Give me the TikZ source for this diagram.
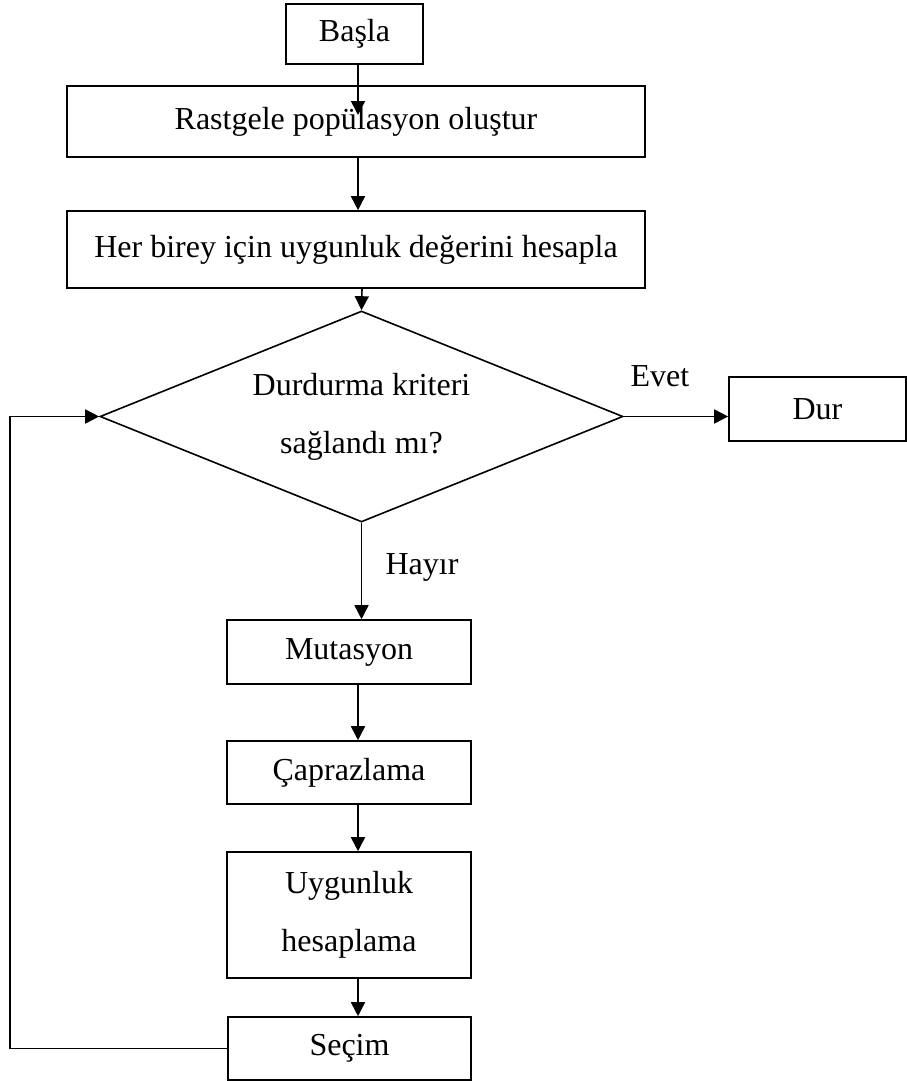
\documentclass[tikz,border=0pt]{standalone}
\usepackage{fontspec}
\setmainfont{Liberation Serif}
\usetikzlibrary{arrows.meta,shapes.geometric}
\begin{document}
\begin{tikzpicture}[x=1pt,y=-1pt,
  every node/.style={font=\fontsize{32}{58}\selectfont, inner sep=0pt},
  box/.style={draw, line width=1.6pt, rectangle, align=center},
  decision/.style={draw, line width=1.6pt, diamond, shape aspect=2.48, align=center},
  arr/.style={line width=1.6pt, -{Triangle[length=14pt,width=14pt]}}]
\useasboundingbox (0,0) rectangle (907,1081);

% process boxes
\node[box, minimum width=137pt, minimum height=60pt] (start) at (354.5,34) {Başla};
\node[box, minimum width=578pt, minimum height=71pt] (init) at (356,121.5) {Rastgele popülasyon oluştur};
\node[box, minimum width=578pt, minimum height=77pt] (eval) at (356,249.5) {Her birey için uygunluk değerini hesapla};
\node[decision, minimum width=523pt, minimum height=211pt] (check) at (361.5,416.5) {Durdurma kriteri\\sağlandı mı?};
\node[box, minimum width=177pt, minimum height=64pt] (stop) at (817.5,409) {Dur};
\node[box, minimum width=244pt, minimum height=64pt] (mut) at (349,652) {Mutasyon};
\node[box, minimum width=244pt, minimum height=63pt] (cross) at (349,772.5) {Çaprazlama};
\node[box, minimum width=244pt, minimum height=126pt] (fit) at (349,915) {Uygunluk\\hesaplama};
\node[box, minimum width=243pt, minimum height=63pt] (sel) at (349.5,1048.5) {Seçim};

% branch labels
\node (yes) at (660,376) {Evet};
\node (no) at (422,567) {Hayır};

% helper coordinates for the connector columns
\coordinate (tip0) at (358,115);
\coordinate (c1) at (358,0);
\coordinate (c2) at (362,0);
\coordinate (c3) at (358,0);
\coordinate (loopx) at (10,0);

% connectors
\draw[arr] (start.south -| tip0) -- (tip0);
\draw[arr] (init.south -| c1) -- (eval.north -| c1);
\draw[arr] (eval.south -| c2) -- (check.north);
\draw[arr] (check.south) -- (mut.north -| check.south);
\draw[arr] (check.east) -- (check.east -| stop.west);
\draw[arr] (mut.south -| c3) -- (cross.north -| c3);
\draw[arr] (cross.south -| c3) -- (fit.north -| c3);
\draw[arr] (fit.south -| c3) -- (sel.north -| c3);
\draw[arr] (sel.west) -- (sel.west -| loopx) |- (check.west);
\end{tikzpicture}
\end{document}
